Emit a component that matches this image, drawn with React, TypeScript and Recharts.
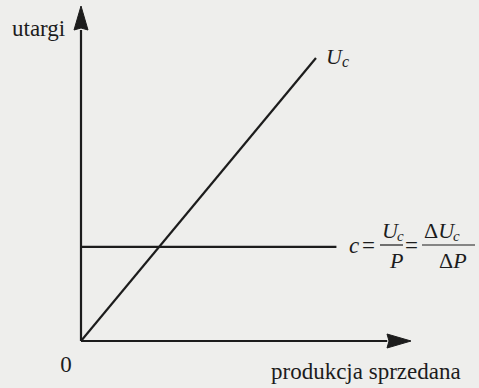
import { Line, LineChart, ReferenceDot, ReferenceLine, XAxis, YAxis } from 'recharts';

// diagram units: both axes run 0..100, arrow tips sit at 100
const AXIS_MAX = 100;
const ARROW_BASE = 92.8;

const revenueLine = [
  { x: 0, y: 0 },
  { x: 71.2, y: 84.5 },
];

const priceLine = [
  { x: 0, y: 28.1 },
  { x: 77.4, y: 28.1 },
];

const INK = '#1c1c1c';
const FONT = '"Liberation Serif", "DejaVu Serif", serif';

const WIDTH = 479;
const HEIGHT = 388;

type ArrowProps = { cx?: number; cy?: number; dir: 'up' | 'right' };

const ArrowHead = ({ cx = 0, cy = 0, dir }: ArrowProps) => {
  const len = 24;
  const half = 7;
  const notch = 2;
  const points =
    dir === 'up'
      ? `${cx},${cy} ${cx - half},${cy + len} ${cx},${cy + len - notch} ${cx + half},${cy + len}`
      : `${cx},${cy} ${cx - len},${cy - half} ${cx - len + notch},${cy} ${cx - len},${cy + half}`;
  return <polygon points={points} fill={INK} stroke={INK} strokeWidth={1} strokeLinejoin="miter" />;
};

const Labels = () => (
  <svg
    width={WIDTH}
    height={HEIGHT}
    style={{ position: 'absolute', left: 0, top: 0, pointerEvents: 'none' }}
    fontFamily={FONT}
    fill={INK}
  >
    <text x={12} y={36} fontSize={23}>utargi</text>
    <text x={66} y={372} fontSize={23} textAnchor="middle">0</text>
    <text x={271} y={379} fontSize={23}>produkcja sprzedana</text>

    <text x={326} y={64} fontSize={22} fontStyle="italic">
      U
      <tspan fontSize={16} dy={3}>c</tspan>
    </text>

    {/* c = Uc/P = ΔUc/ΔP */}
    <text x={349} y={253} fontSize={23} fontStyle="italic">c</text>
    <text x={362} y={253} fontSize={23}>=</text>
    <text x={382} y={238} fontSize={22} fontStyle="italic">
      U
      <tspan fontSize={15} dx={-1} dy={3}>c</tspan>
    </text>
    <line x1={380} x2={403} y1={245} y2={245} stroke={INK} strokeWidth={1.2} />
    <text x={390} y={268} fontSize={22} fontStyle="italic">P</text>
    <text x={405} y={253} fontSize={23}>=</text>
    <text x={424} y={238} fontSize={22}>
      Δ
      <tspan fontStyle="italic">U</tspan>
      <tspan fontSize={15} fontStyle="italic" dx={-1} dy={3}>c</tspan>
    </text>
    <line x1={422} x2={475} y1={245} y2={245} stroke={INK} strokeWidth={1.2} />
    <text x={439} y={268} fontSize={22}>
      Δ
      <tspan fontStyle="italic">P</tspan>
    </text>
  </svg>
);

export default function App() {
  return (
    <div
      style={{
        position: 'absolute',
        left: 0,
        top: 0,
        width: WIDTH,
        height: HEIGHT,
        background: '#eeeeec',
      }}
    >
      <LineChart width={WIDTH} height={HEIGHT} margin={{ top: 6, right: 68, bottom: 47, left: 81 }}>
        <XAxis type="number" dataKey="x" domain={[0, AXIS_MAX]} hide allowDataOverflow />
        <YAxis type="number" domain={[0, AXIS_MAX]} hide allowDataOverflow />

        <ReferenceLine
          segment={[
            { x: 0, y: 0 },
            { x: 0, y: ARROW_BASE },
          ]}
          stroke={INK}
          strokeWidth={2.2}
        />
        <ReferenceLine
          segment={[
            { x: 0, y: 0 },
            { x: ARROW_BASE, y: 0 },
          ]}
          stroke={INK}
          strokeWidth={2.2}
        />
        <ReferenceDot x={0} y={AXIS_MAX} r={0} shape={(p: any) => <ArrowHead cx={p.cx} cy={p.cy} dir="up" />} />
        <ReferenceDot x={AXIS_MAX} y={0} r={0} shape={(p: any) => <ArrowHead cx={p.cx} cy={p.cy} dir="right" />} />

        <Line
          data={revenueLine}
          dataKey="y"
          type="linear"
          stroke={INK}
          strokeWidth={2.2}
          dot={false}
          isAnimationActive={false}
        />
        <Line
          data={priceLine}
          dataKey="y"
          type="linear"
          stroke={INK}
          strokeWidth={2.2}
          dot={false}
          isAnimationActive={false}
        />
      </LineChart>
      <Labels />
    </div>
  );
}
